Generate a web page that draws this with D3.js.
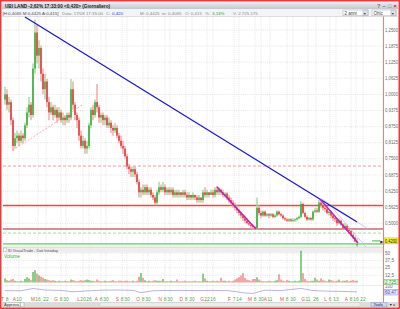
<!DOCTYPE html>
<html>
<head>
<meta charset="utf-8">
<script src="https://cdn.jsdelivr.net/npm/d3@7"></script>
<style>
html, body { margin: 0; padding: 0; background: #fff; }
svg { display: block; font-family: "Liberation Sans", "DejaVu Sans", sans-serif; }
</style>
</head>
<body>
<svg id="chart" width="400" height="309"></svg>
<script>
// Daily bars (UBI LAND, about 2 years)
var opens = [0.98,1.00,0.96,0.97,0.90,0.80,0.83,0.84,0.82,0.84,
  0.83,0.88,0.93,0.96,0.92,1.10,1.24,1.15,1.18,1.08,
  1.02,1.05,0.97,0.93,0.95,0.92,0.94,0.91,0.93,0.90,
  0.91,0.90,0.92,0.91,1.02,0.96,0.92,0.90,0.84,0.80,
  0.82,0.79,0.80,0.88,0.94,0.92,0.97,0.95,0.91,0.92,
  0.90,0.91,0.88,0.89,0.87,0.86,0.87,0.84,0.82,0.80,
  0.79,0.76,0.72,0.71,0.70,0.71,0.69,0.66,0.62,0.63,
  0.62,0.64,0.62,0.63,0.61,0.60,0.58,0.62,0.64,0.63,
  0.64,0.62,0.63,0.62,0.63,0.61,0.62,0.61,0.62,0.61,
  0.62,0.61,0.60,0.61,0.60,0.61,0.60,0.59,0.60,0.59,
  0.62,0.61,0.62,0.61,0.62,0.61,0.63,0.62,0.63,0.62,
  0.61,0.615,0.60,0.59,0.58,0.57,0.56,0.55,0.54,0.53,
  0.52,0.51,0.50,0.495,0.49,0.485,0.48,0.56,0.54,0.53,
  0.545,0.53,0.535,0.53,0.535,0.525,0.53,0.545,0.535,0.53,
  0.52,0.515,0.51,0.515,0.51,0.512,0.515,0.52,0.525,0.575,
  0.54,0.525,0.515,0.52,0.515,0.545,0.55,0.545,0.58,0.57,
  0.56,0.555,0.54,0.545,0.53,0.52,0.515,0.50,0.51,0.495,
  0.48,0.49,0.475,0.47,0.455,0.445,0.415]
var closes = [1.00,0.96,0.97,0.90,0.80,0.83,0.84,0.82,0.84,0.83,
  0.88,0.93,0.96,0.92,1.10,1.24,1.15,1.18,1.08,1.02,
  1.05,0.97,0.93,0.95,0.92,0.94,0.91,0.93,0.90,0.91,
  0.90,0.92,0.91,1.02,0.96,0.92,0.90,0.84,0.80,0.82,
  0.79,0.80,0.88,0.94,0.92,0.97,0.95,0.91,0.92,0.90,
  0.91,0.88,0.89,0.87,0.86,0.87,0.84,0.82,0.80,0.79,
  0.76,0.72,0.71,0.70,0.71,0.69,0.66,0.62,0.63,0.62,
  0.64,0.62,0.63,0.61,0.60,0.58,0.62,0.64,0.63,0.64,
  0.62,0.63,0.62,0.63,0.61,0.62,0.61,0.62,0.61,0.62,
  0.61,0.60,0.61,0.60,0.61,0.60,0.59,0.60,0.59,0.62,
  0.61,0.62,0.61,0.62,0.61,0.63,0.62,0.63,0.62,0.61,
  0.615,0.60,0.59,0.58,0.57,0.56,0.55,0.54,0.53,0.52,
  0.51,0.50,0.495,0.49,0.485,0.48,0.56,0.54,0.53,0.545,
  0.53,0.535,0.53,0.535,0.525,0.53,0.545,0.535,0.53,0.52,
  0.515,0.51,0.515,0.51,0.512,0.515,0.52,0.525,0.575,0.54,
  0.525,0.515,0.52,0.515,0.545,0.55,0.545,0.58,0.57,0.56,
  0.555,0.54,0.545,0.53,0.52,0.515,0.50,0.51,0.495,0.48,
  0.49,0.475,0.47,0.455,0.445,0.43,0.42]
var highs = [1.03,1.02,0.99,0.98,0.91,0.85,0.86,0.85,0.86,0.85,
  0.89,0.95,0.99,0.97,1.12,1.29,1.27,1.21,1.19,1.10,
  1.08,1.06,0.99,0.97,0.96,0.96,0.95,0.95,0.94,0.93,
  0.92,0.93,0.93,1.06,1.05,0.97,0.93,0.91,0.86,0.84,
  0.83,0.82,0.89,0.95,0.96,0.98,1.04,0.96,0.93,0.93,
  0.92,0.92,0.91,0.90,0.88,0.89,0.88,0.85,0.84,0.82,
  0.80,0.77,0.73,0.72,0.72,0.72,0.70,0.67,0.64,0.65,
  0.65,0.65,0.64,0.64,0.62,0.61,0.63,0.66,0.65,0.66,
  0.65,0.64,0.64,0.64,0.64,0.63,0.63,0.63,0.62,0.63,
  0.63,0.62,0.62,0.61,0.62,0.61,0.61,0.61,0.60,0.63,
  0.64,0.63,0.62,0.63,0.63,0.64,0.645,0.64,0.635,0.63,
  0.62,0.62,0.61,0.60,0.59,0.58,0.57,0.555,0.545,0.535,
  0.53,0.52,0.51,0.50,0.495,0.49,0.60,0.57,0.55,0.55,
  0.55,0.54,0.54,0.54,0.54,0.535,0.55,0.55,0.54,0.535,
  0.525,0.52,0.52,0.52,0.52,0.52,0.525,0.53,0.585,0.58,
  0.545,0.53,0.525,0.525,0.55,0.56,0.56,0.59,0.59,0.58,
  0.57,0.56,0.55,0.55,0.535,0.525,0.52,0.52,0.515,0.50,
  0.50,0.495,0.48,0.475,0.46,0.45,0.4425]
var lows = [0.96,0.94,0.93,0.88,0.78,0.79,0.81,0.80,0.81,0.81,
  0.82,0.87,0.91,0.90,0.91,1.08,1.12,1.10,1.05,1.00,
  0.98,0.95,0.90,0.92,0.90,0.91,0.89,0.90,0.89,0.88,
  0.88,0.89,0.89,0.90,0.94,0.90,0.87,0.82,0.79,0.79,
  0.77,0.77,0.79,0.87,0.90,0.91,0.93,0.89,0.89,0.88,
  0.88,0.87,0.87,0.85,0.84,0.85,0.83,0.81,0.79,0.77,
  0.75,0.71,0.69,0.68,0.68,0.68,0.65,0.60,0.60,0.61,
  0.61,0.61,0.61,0.60,0.59,0.57,0.57,0.61,0.62,0.62,
  0.61,0.61,0.61,0.61,0.60,0.60,0.60,0.60,0.60,0.60,
  0.60,0.59,0.59,0.59,0.59,0.59,0.58,0.58,0.58,0.58,
  0.60,0.60,0.60,0.61,0.60,0.60,0.61,0.61,0.61,0.60,
  0.60,0.59,0.58,0.57,0.56,0.55,0.54,0.53,0.52,0.51,
  0.50,0.495,0.49,0.48,0.475,0.475,0.475,0.53,0.52,0.525,
  0.525,0.525,0.52,0.525,0.52,0.52,0.525,0.53,0.525,0.515,
  0.51,0.505,0.505,0.505,0.505,0.505,0.51,0.515,0.52,0.535,
  0.52,0.51,0.51,0.51,0.51,0.54,0.54,0.54,0.56,0.55,
  0.545,0.535,0.53,0.52,0.51,0.505,0.49,0.495,0.49,0.475,
  0.475,0.47,0.46,0.45,0.44,0.425,0.4065]
// volume in millions
var volumes = [7,4,3,5,6,3,2,2,3,2,
  6,9,7,4,18,21,15,12,10,8,
  6,5,4,3,4,3,2,3,2,2,
  3,2,2,5,4,3,2,3,4,3,
  4,5,4,3,3,2,5,3,2,2,
  3,2,2,3,4,2,2,3,3,2,
  3,3,2,2,3,2,3,10,16,8,
  4,2,3,2,3,4,3,3,3,6,
  2,2,2,3,2,2,5,2,2,2,
  3,2,2,2,2,3,2,2,2,15,
  7,3,2,2,3,2,3,2,8,3,
  3,2,3,2,3,5,7,9,12,16,
  8,5,4,3,6,6,9,5,3,2,
  2,2,3,2,2,3,4,14,5,3,
  2,4,3,2,2,3,2,3,54,16,
  6,3,2,3,3,8,5,3,7,4,
  3,2,5,4,3,2,3,5,2,3,
  3,4,2,3,4,3,3]
// lower oscillator (0-100)
var oscIdx = [0,8,14,20,28,34,40,48,56,64,68,74,80,88,96,104,112,120,124,130,138,148,154,162,170,176]
var oscVal = [63,62,85,70,66,52,60,68,70,66,44,62,65,66,64,66,63,40,36,68,64,86,64,58,55,52]

// price axis ticks
var priceTicks = [0.5,0.5625,0.625,0.6875,0.75,0.8125,0.875,0.9375,1.0,1.0625,1.125,1.1875,1.25]
var volTicks = [12.5,25,37.5,50]

// time axis: month letter + day labels at bar positions
var monthNames = ['T','A','M','G','L','A','S','O','N','D','G','F','M','A','M','G','L','A']
var monthDays = [['8'],['10'],['16','22'],['8','30'],['20','26'],['8','30'],['8','30'],['8','30'],['8','30'],['8','30'],
  ['22','16'],['7','14'],['8','30'],['11'],['8','30'],['11','26'],['6','13'],['8','16','22']]
var monthDayIdx = [[1],[7],[16.5,20.5],[28,30.5],[39,42],[48,50.5],[58.5,61],[69,71.5],[80,82.5],[90.5,93.5],
  [101,104],[114.5,117],[125,128],[132.5],[141,144],[151.5,155.5],[162.5,165.5],[173,175.5,179]]

// trendlines [barIndex, price]
var blueLine = [[10, 1.30], [176, 0.505]]
var pinkLine = [[4, 0.784], [38.5, 0.958]]
var magentaLines = [[[106, 0.641], [125.5, 0.478]], [[157.5, 0.594], [176.5, 0.4235]]]
var channelLines = [[[158.5, 0.594], [181.5, 0.478]], [[162.5, 0.571], [180.5, 0.408]]]
// horizontal levels
var levelPrices = [0.722, 0.569, 0.478, 0.462, 0.420]
var levelStyles = [
  { c: '#f08080', w: 0.8, d: '3,2' },
  { c: '#f04848', w: 1.4, d: null },
  { c: '#b02030', w: 1.1, d: null },
  { c: '#90d090', w: 0.8, d: '3,2' },
  { c: '#8fd88f', w: 1.8, d: null }
]

var svg = d3.select('#chart')
var left = 3, right = 383

var xS = d3.scaleLinear().domain([0, 176]).range([5, 357])
var yS = d3.scaleLinear().domain([0.408, 1.304]).range([247, 16])
var vS = d3.scaleLinear().domain([0, 60]).range([282.5, 247.2])
var oS = d3.scaleLinear().domain([0, 100]).range([297, 287])

var fmt = function(v, p) { return d3.format('.' + p + 'f')(v).replace('.', ',') }

svg.append('rect').attr('width', 400).attr('height', 309).attr('fill', '#fff')

// title bar
var grad = svg.append('defs').append('linearGradient').attr('id', 'tb').attr('x1', 0).attr('x2', 0).attr('y1', 0).attr('y2', 1)
grad.append('stop').attr('offset', 0).attr('stop-color', '#eceef2')
grad.append('stop').attr('offset', 1).attr('stop-color', '#c2c6d0')
svg.append('rect').attr('x', 2).attr('y', 2).attr('width', 396).attr('height', 7).attr('fill', 'url(#tb)')
svg.append('text').attr('x', 5).attr('y', 7.6).attr('font-size', 5.2).attr('font-weight', 'bold').attr('fill', '#222')
  .attr('textLength', 105).attr('lengthAdjust', 'spacingAndGlyphs')
  .text('UBI LAND -2,62% 17:33:00 <0,420> (Giornaliero)')
var winBtns = ['?', '\u2013', '\u25A1', '\u00D7']
winBtns.forEach(function(t, i) {
  svg.append('text').attr('x', 377 + i * 5.5).attr('y', 7.8).attr('font-size', 5.5)
    .attr('fill', i === 3 ? '#d02020' : '#707070').attr('font-weight', 'bold').text(t)
})

// info bar
svg.append('rect').attr('x', 2).attr('y', 9).attr('width', 396).attr('height', 7.5).attr('fill', '#f3f4f7')
svg.append('line').attr('x1', 2).attr('x2', 398).attr('y1', 16.5).attr('y2', 16.5).attr('stroke', '#c4c4c4').attr('stroke-width', 0.5)
var info = [
  { x: 2.5, t: '[H:0,4065 M:0,4425 A:0,415]', c: '#505050' },
  { x: 62, t: 'Data: 17/08 17:35:00', c: '#8a8a8a' },
  { x: 106, t: 'C:', c: '#8a8a8a' },
  { x: 112, t: '0,420', c: '#2a48c8' },
  { x: 140, t: 'M: 0,4425', c: '#8a8a8a' },
  { x: 162, t: 'm: 0,4065', c: '#8a8a8a' },
  { x: 185, t: 'O: 0,415', c: '#8a8a8a' },
  { x: 205, t: '%:', c: '#8a8a8a' },
  { x: 212, t: '3,13%', c: '#28a028' },
  { x: 233, t: 'V: 2.725.175', c: '#8a8a8a' }
]
info.forEach(function(d) {
  svg.append('text').attr('x', d.x).attr('y', 14.5).attr('font-size', 4.4).attr('fill', d.c).text(d.t)
})
var combos = [{ x: 343, w: 25, t: '2 anni' }, { x: 372, w: 24, t: 'Ohlc' }]
combos.forEach(function(d) {
  svg.append('rect').attr('x', d.x).attr('y', 10).attr('width', d.w).attr('height', 5.8)
    .attr('fill', '#fff').attr('stroke', '#a8a8a8').attr('stroke-width', 0.5)
  svg.append('rect').attr('x', d.x + d.w - 5).attr('y', 10).attr('width', 5).attr('height', 5.8)
    .attr('fill', '#dde2ea').attr('stroke', '#a8a8a8').attr('stroke-width', 0.5)
  svg.append('text').attr('x', d.x + 1.5).attr('y', 14.6).attr('font-size', 4.5).attr('fill', '#404040').text(d.t)
  svg.append('text').attr('x', d.x + d.w - 4.2).attr('y', 14.6).attr('font-size', 4).attr('fill', '#404040').text('\u25BE')
})

// price panel grid
var grid = svg.append('g').attr('stroke', '#c9c9c9').attr('stroke-width', 0.5).attr('stroke-dasharray', '1,1.2')
priceTicks.forEach(function(t) {
  grid.append('line').attr('x1', left).attr('x2', right).attr('y1', yS(t)).attr('y2', yS(t))
})
monthDayIdx.forEach(function(arr) {
  arr.forEach(function(i) {
    grid.append('line').attr('x1', xS(i)).attr('x2', xS(i)).attr('y1', 17).attr('y2', 246)
    grid.append('line').attr('x1', xS(i)).attr('x2', xS(i)).attr('y1', 253).attr('y2', 297)
  })
})

// horizontal levels
levelPrices.forEach(function(p, i) {
  var s = levelStyles[i]
  svg.append('line').attr('x1', left).attr('x2', right).attr('y1', yS(p)).attr('y2', yS(p))
    .attr('stroke', s.c).attr('stroke-width', s.w).attr('stroke-dasharray', s.d)
})

// candles
var bars = d3.range(closes.length).map(function(i) {
  return { i: i, o: opens[i], h: highs[i], l: lows[i], c: closes[i], v: volumes[i] }
})
var cg = svg.append('g')
cg.selectAll('line.wick').data(bars).enter().append('line')
  .attr('x1', function(d) { return xS(d.i) }).attr('x2', function(d) { return xS(d.i) })
  .attr('y1', function(d) { return yS(d.h) }).attr('y2', function(d) { return yS(d.l) })
  .attr('stroke', function(d) { return d.c >= d.o ? '#9fd89f' : '#f5a3a3' }).attr('stroke-width', 1.4)
cg.selectAll('rect.body').data(bars).enter().append('rect')
  .attr('x', function(d) { return xS(d.i) - 0.6 }).attr('width', 1.2)
  .attr('y', function(d) { return yS(Math.max(d.o, d.c)) })
  .attr('height', function(d) { return Math.max(0.8, Math.abs(yS(d.o) - yS(d.c))) })
  .attr('fill', function(d) { return d.c >= d.o ? '#10a010' : '#e01010' })

// trendlines
var lineGen = d3.line().x(function(d) { return xS(d[0]) }).y(function(d) { return yS(d[1]) })
svg.append('path').attr('d', lineGen(pinkLine)).attr('fill', 'none').attr('stroke', '#f08a8a')
  .attr('stroke-width', 0.7).attr('stroke-dasharray', '2,1.5')
channelLines.forEach(function(l) {
  svg.append('path').attr('d', lineGen(l)).attr('fill', 'none').attr('stroke', '#b8b8e0').attr('stroke-width', 0.7)
})
svg.append('path').attr('d', lineGen(blueLine)).attr('fill', 'none').attr('stroke', '#1a1ad0').attr('stroke-width', 1.3)
magentaLines.forEach(function(l) {
  svg.append('path').attr('d', lineGen(l)).attr('fill', 'none').attr('stroke', '#c020c0').attr('stroke-width', 1.5)
})

// price axis
var lastY = yS(closes[closes.length - 1]) - 3
svg.append('line').attr('x1', 372).attr('x2', 380).attr('y1', lastY).attr('y2', lastY).attr('stroke', '#30b030').attr('stroke-width', 0.9)
svg.append('text').attr('x', 380.2).attr('y', lastY + 1.6).attr('font-size', 4).attr('fill', '#202020').text('\u25B6')
var ax = svg.append('g').attr('font-size', 4.6).attr('fill', '#6a6a6a')
priceTicks.forEach(function(t) {
  ax.append('text').attr('x', 385).attr('y', yS(t) + 1.6).attr('textLength', 13).attr('lengthAdjust', 'spacingAndGlyphs').text(fmt(t, 4))
})
svg.append('rect').attr('x', 384).attr('y', lastY - 3).attr('width', 14).attr('height', 6)
  .attr('fill', '#f8f440').attr('stroke', '#b0a800').attr('stroke-width', 0.4)
svg.append('text').attr('x', 385).attr('y', lastY + 1.7).attr('font-size', 4.6).attr('fill', '#111')
  .attr('textLength', 12).attr('lengthAdjust', 'spacingAndGlyphs').text(fmt(closes[closes.length - 1], 4))

// volume panel header
svg.append('rect').attr('x', left).attr('y', 247).attr('width', right - left).attr('height', 5.5).attr('fill', '#ededed')
svg.append('line').attr('x1', left).attr('x2', right).attr('y1', 247).attr('y2', 247).attr('stroke', '#b8b8b8').attr('stroke-width', 0.5)
svg.append('rect').attr('x', 3.5).attr('y', 248).attr('width', 3).attr('height', 3.5).attr('fill', '#fff').attr('stroke', '#909090').attr('stroke-width', 0.4)
svg.append('text').attr('x', 8).attr('y', 251.6).attr('font-size', 4.3).attr('fill', '#505050')
  .attr('textLength', 50).attr('lengthAdjust', 'spacingAndGlyphs').text('ID VisualTrade - Dati Intraday')
svg.append('text').attr('x', 4).attr('y', 257.5).attr('font-size', 4.8).attr('fill', '#40a840').text('Volume')

var vg = svg.append('g').attr('stroke', '#c9c9c9').attr('stroke-width', 0.5).attr('stroke-dasharray', '1,1.2')
volTicks.forEach(function(t) {
  vg.append('line').attr('x1', left).attr('x2', right).attr('y1', vS(t)).attr('y2', vS(t))
})
svg.append('line').attr('x1', left).attr('x2', right).attr('y1', 285.5).attr('y2', 285.5).attr('stroke', '#d8d8d8').attr('stroke-width', 0.5)

svg.append('g').selectAll('rect').data(bars).enter().append('rect')
  .attr('x', function(d) { return xS(d.i) - 0.6 }).attr('width', 1.2)
  .attr('y', function(d) { return vS(d.v) }).attr('height', function(d) { return vS(0) - vS(d.v) })
  .attr('fill', function(d) { return d.c >= d.o ? '#3cb43c' : '#ee6a6a' })

// oscillator
var oscLine = d3.line().x(function(d, k) { return xS(oscIdx[k]) }).y(function(d) { return oS(d) })
svg.append('path').attr('d', oscLine(oscVal)).attr('fill', 'none').attr('stroke', '#8a84d0').attr('stroke-width', 0.6)

var vax = svg.append('g').attr('font-size', 4.6).attr('fill', '#6a6a6a')
volTicks.forEach(function(t) {
  vax.append('text').attr('x', 385).attr('y', vS(t) + 1.6).text(fmt(t, t % 1 ? 1 : 0))
})
svg.append('rect').attr('x', 384).attr('y', 279.3).attr('width', 14).attr('height', 5.5)
  .attr('fill', '#e6f6e6').attr('stroke', '#40a840').attr('stroke-width', 0.4)
svg.append('text').attr('x', 385).attr('y', 283.6).attr('font-size', 4.5).attr('fill', '#30a030').text('2,725')
vax.append('text').attr('x', 385).attr('y', 288.3).text('100')
svg.append('rect').attr('x', 384).attr('y', 289.5).attr('width', 14).attr('height', 5.5)
  .attr('fill', '#e8eafa').attr('stroke', '#6a6ad0').attr('stroke-width', 0.4)
svg.append('text').attr('x', 385).attr('y', 293.8).attr('font-size', 4.5).attr('fill', '#4040c0').text('60,47')

// time axis labels
var tx = svg.append('g').attr('font-size', 4.8)
monthNames.forEach(function(m, k) {
  var idx = monthDayIdx[k]
  tx.append('text').attr('x', xS(idx[0]) - 3).attr('y', 300.8).attr('text-anchor', 'end').attr('fill', '#e05050').text(m)
  idx.forEach(function(i, j) {
    tx.append('text').attr('x', xS(i)).attr('y', 300.8).attr('text-anchor', 'middle').attr('fill', '#48a848').text(monthDays[k][j])
  })
})

// bottom bar
svg.append('rect').attr('x', 2).attr('y', 302).attr('width', 396).attr('height', 5).attr('fill', '#dcdcdc')
svg.append('rect').attr('x', 3).attr('y', 302.3).attr('width', 17).attr('height', 4.6).attr('fill', '#f4f4f4').attr('stroke', '#9a9a9a').attr('stroke-width', 0.4)
svg.append('text').attr('x', 4).attr('y', 306.2).attr('font-size', 4).attr('fill', '#333').text('Approva')
svg.append('rect').attr('x', 20.5).attr('y', 302.3).attr('width', 3.5).attr('height', 4.6).attr('fill', '#f4f4f4').attr('stroke', '#9a9a9a').attr('stroke-width', 0.4)
svg.append('rect').attr('x', 100).attr('y', 302.8).attr('width', 260).attr('height', 3.6).attr('fill', '#ececec').attr('stroke', '#c0c0c0').attr('stroke-width', 0.3)
svg.append('rect').attr('x', 371).attr('y', 302.3).attr('width', 16).attr('height', 4.6).attr('fill', '#c6daf2').attr('stroke', '#6f8fc0').attr('stroke-width', 0.4)
svg.append('text').attr('x', 373.5).attr('y', 306.2).attr('font-size', 4).attr('fill', '#203060').text('Tools')
svg.append('text').attr('x', 389).attr('y', 306.3).attr('font-size', 3.6).attr('fill', '#303030').text('\u25BC \u25B8')

// axis separator and outer frame
svg.append('line').attr('x1', 383.5).attr('x2', 383.5).attr('y1', 16.5).attr('y2', 302).attr('stroke', '#e87070').attr('stroke-width', 0.9)
svg.append('rect').attr('x', 0.75).attr('y', 0.75).attr('width', 398.5).attr('height', 307.5)
  .attr('fill', 'none').attr('stroke', '#e83a3a').attr('stroke-width', 1.5)
</script>
</body>
</html>
